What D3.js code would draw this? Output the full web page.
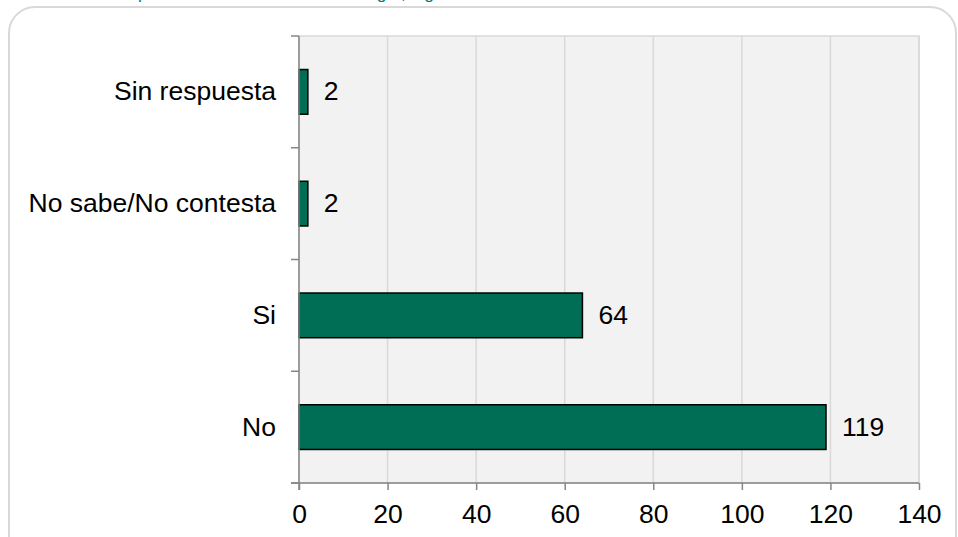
<!DOCTYPE html>
<html>
<head>
<meta charset="utf-8">
<script src="https://cdn.jsdelivr.net/npm/d3@7"></script>
<style>
    body { margin: 0; background: #fff; }
    svg { display: block; font-family: "Liberation Sans", Arial, sans-serif; }
</style>
</head>
<body>
<svg id="chart" width="958" height="537"></svg>
<script>
// categories, top to bottom
let categories = ["Sin respuesta", "No sabe/No contesta", "Si", "No"];
let values = [2, 2, 64, 119];
let xTicks = [0, 20, 40, 60, 80, 100, 120, 140];
let title = "Ha presenciado violencia en su hogar, alguna vez";

let svg = d3.select("#chart");
let fontSize = "26.5px";

// plot area
let plotLeft = 299, plotRight = 919, plotTop = 36, plotBottom = 483;

// outer rounded frame (bottom/right run off the picture)
svg.append("rect")
    .attr("x", 9).attr("y", 7)
    .attr("width", 947).attr("height", 560)
    .attr("rx", 26).attr("ry", 26)
    .attr("fill", "#fff")
    .attr("stroke", "#d9d9d9")
    .attr("stroke-width", 2);

// title, mostly cut off above the picture (as in the original)
svg.append("text")
    .attr("x", 111).attr("y", -1)
    .attr("fill", "#00805f")
    .style("font-size", "17.4px")
    .text(title);

let xScale = d3.scaleLinear()
    .domain([0, 140])
    .range([plotLeft, plotRight]);

let yScale = d3.scaleBand()
    .domain(categories)
    .range([plotTop, plotBottom])
    .paddingInner(0.6)
    .paddingOuter(0.3);

// plot background
svg.append("rect")
    .attr("x", plotLeft).attr("y", plotTop)
    .attr("width", plotRight - plotLeft).attr("height", plotBottom - plotTop)
    .attr("fill", "#f2f2f2")
    .attr("stroke", "#d9d9d9")
    .attr("stroke-width", 1.5);

// vertical grid
svg.append("g")
    .selectAll("line")
    .data(xTicks.slice(1))
    .enter()
    .append("line")
    .attr("x1", d => xScale(d)).attr("x2", d => xScale(d))
    .attr("y1", plotTop).attr("y2", plotBottom)
    .attr("stroke", "#d9d9d9")
    .attr("stroke-width", 1.5);

// bars
svg.append("g")
    .selectAll("rect")
    .data(values)
    .enter()
    .append("rect")
    .attr("x", xScale(0))
    .attr("y", (d, i) => yScale(categories[i]))
    .attr("width", d => xScale(d) - xScale(0))
    .attr("height", yScale.bandwidth())
    .attr("fill", "#006e54")
    .attr("stroke", "#000")
    .attr("stroke-width", 1.5);

// value labels
svg.append("g")
    .selectAll("text")
    .data(values)
    .enter()
    .append("text")
    .attr("x", d => xScale(d) + 16)
    .attr("y", (d, i) => yScale(categories[i]) + yScale.bandwidth() / 2)
    .attr("dy", "0.32em")
    .style("font-size", fontSize)
    .attr("fill", "#000")
    .text(d => d);

// x axis
let xAxis = d3.axisBottom(xScale)
    .tickValues(xTicks)
    .tickSize(7)
    .tickPadding(14);

let gx = svg.append("g")
    .attr("transform", `translate(0, ${plotBottom})`)
    .call(xAxis);
gx.select(".domain").remove();
gx.append("line")
    .attr("x1", 291).attr("x2", plotRight)
    .attr("stroke", "#868686").attr("stroke-width", 1.5);
gx.selectAll(".tick line").attr("stroke", "#868686").attr("stroke-width", 1.5);
gx.selectAll(".tick text")
    .attr("fill", "#000")
    .style("font-size", fontSize)
    .style("font-family", "'Liberation Sans', Arial, sans-serif");

// y axis: line plus ticks at band boundaries
let gy = svg.append("g");
gy.append("line")
    .attr("x1", plotLeft).attr("x2", plotLeft)
    .attr("y1", plotTop).attr("y2", plotBottom + 7)
    .attr("stroke", "#868686").attr("stroke-width", 1.5);

let bounds = categories.map(c => yScale(c) - yScale.step() * yScale.paddingInner() / 2);
bounds[0] = plotTop;
bounds.push(plotBottom);
gy.selectAll(".ytick")
    .data(bounds)
    .enter()
    .append("line")
    .attr("class", "ytick")
    .attr("x1", 291).attr("x2", plotLeft)
    .attr("y1", d => d).attr("y2", d => d)
    .attr("stroke", "#868686").attr("stroke-width", 1.5);

gy.selectAll(".ylabel")
    .data(categories)
    .enter()
    .append("text")
    .attr("class", "ylabel")
    .attr("x", 276)
    .attr("y", d => yScale(d) + yScale.bandwidth() / 2)
    .attr("dy", "0.32em")
    .attr("text-anchor", "end")
    .style("font-size", fontSize)
    .attr("fill", "#000")
    .text(d => d);
</script>
</body>
</html>
